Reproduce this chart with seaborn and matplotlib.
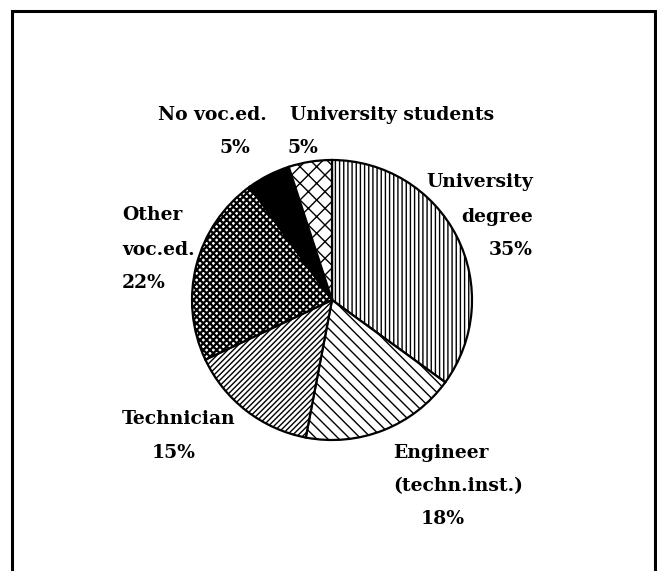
import matplotlib
matplotlib.use("Agg")
import matplotlib.pyplot as plt
import seaborn as sns

# shares of each education group (%), clockwise from the top
groups = ["University degree", "Engineer (techn.inst.)", "Technician",
          "Other voc.ed.", "No voc.ed.", "University students"]
shares = [35, 18, 15, 22, 5, 5]

sns.set_theme(style="white")
plt.rcParams["font.family"] = ["DejaVu Serif", "Liberation Serif"]
plt.rcParams["hatch.linewidth"] = 1.0

W, H = 657, 571
fig = plt.figure(figsize=(W / 100, H / 100), dpi=100)
ax = fig.add_axes([0, 0, 1, 1])

# patterns per slice
hatches = ["||||", "\\\\\\", "//////", "xxxxx", "", "xx"]
faces = ["white", "white", "white", "white", "black", "white"]

cx, cy, r = 332, H - 300, 140
wedges, _ = ax.pie(shares, startangle=90, counterclock=False,
                   center=(cx, cy), radius=r, colors=faces,
                   wedgeprops=dict(edgecolor="black", linewidth=1.6))
for w, h in zip(wedges, hatches):
    w.set_hatch(h)
if hasattr(wedges[3], "set_hatch_linewidth"):
    wedges[3].set_hatch_linewidth(1.6)

ax.set_xlim(0, W)
ax.set_ylim(0, H)
ax.set_aspect("equal")
ax.axis("off")

# frame round the chart (open at the bottom edge)
ax.plot([12, 12, 655, 655], [-5, H - 11, H - 11, -5], color="black",
        lw=2.2, solid_joinstyle="miter", clip_on=False)

fs = 13.5
kw = dict(fontsize=fs, fontweight="bold", va="center", color="black")

def lab(x, y, s, ha="left"):
    ax.text(x, H - y, s, ha=ha, **kw)

lab(212, 115, "No voc.ed.", "center")
lab(235, 148, f"{shares[4]}%", "center")
lab(290, 115, "University students")
lab(303, 148, f"{shares[5]}%", "center")

lab(533, 182, "University", "right")
lab(533, 217, "degree", "right")
lab(533, 250, f"{shares[0]}%", "right")

lab(122, 215, "Other")
lab(122, 250, "voc.ed.")
lab(122, 283, f"{shares[3]}%")

lab(122, 419, "Technician")
lab(174, 453, f"{shares[2]}%", "center")

lab(393, 453, "Engineer")
lab(393, 486, "(techn.inst.)")
lab(443, 519, f"{shares[1]}%", "center")

fig.savefig("out.png", dpi=100, facecolor="white")
